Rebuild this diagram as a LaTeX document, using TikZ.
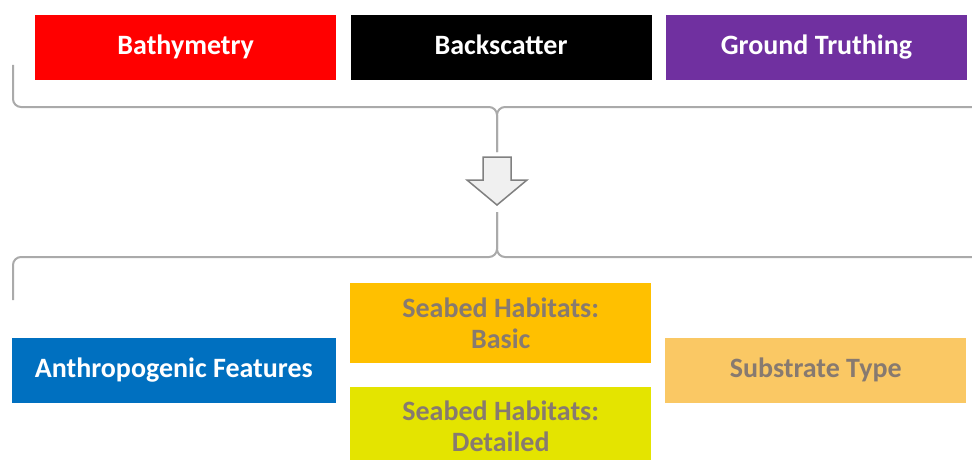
\documentclass[tikz,border=0pt]{standalone}
\usepackage{fontspec}
\setmainfont{Carlito}
\usetikzlibrary{
  arrows.meta,
  positioning
}
\definecolor{bathyred}{RGB}{255,0,0}
\definecolor{truthpurple}{RGB}{112,48,160}
\definecolor{anthroblue}{RGB}{0,112,192}
\definecolor{basicorange}{RGB}{255,192,0}
\definecolor{detailyellow}{RGB}{228,228,0}
\definecolor{substrateorange}{RGB}{250,200,100}
\definecolor{labelgray}{RGB}{135,122,112}
\definecolor{bracegray}{RGB}{170,170,170}
\tikzset{
  layer/.style={minimum width=301pt, minimum height=65pt, inner sep=0pt,
    align=center, font=\fontsize{28}{31}\selectfont\bfseries},
  oneline/.style={text height=20pt, text depth=6pt},
  brace/.style={draw=bracegray, line width=2pt, rounded corners=8pt},
}

\begin{document}
\begin{tikzpicture}[x=1pt, y=-1pt]
      \useasboundingbox (0,0) rectangle (972,460);
      % inputs
      \node (bathy) [layer, oneline, anchor=north west, fill=bathyred, text=white] at (35,15) {Bathymetry};
      \node (back) [layer, oneline, right = 14pt of bathy, fill=black, text=white] {Backscatter};
      \node (truth) [layer, oneline, right = 14pt of back, fill=truthpurple, text=white] {Ground Truthing};

      % outputs
      \node (basic) [layer, anchor=north west, minimum height=80pt, fill=basicorange, text=labelgray] at (350,283) {Seabed Habitats:\\Basic};
      \node (detail) [layer, below = 23pt of basic, minimum height=80pt, fill=detailyellow, text=labelgray] {Seabed Habitats:\\Detailed};
      \node (anthro) [layer, oneline, anchor=north east, minimum width=324pt, fill=anthroblue, text=white] at (336,338) {Anthropogenic Features};
      \node (substrate) [layer, oneline, anchor=north west, fill=substrateorange, text=labelgray] at (665,338) {Substrate Type};

      % braces
      \draw[brace] (13,65) -- (13,107) -- (497,107) -- (497,152);
      \draw[brace] (972,107) -- (497,107) -- (497,152);
      \draw[brace] (497,212) -- (497,257) -- (13,257) -- (13,300);
      \draw[brace] (497,212) -- (497,257) -- (972,257);

      % arrow
      \draw[draw=gray, fill=gray!12, line width=1.5pt, line join=miter]
        (483,157) -- (511,157) -- (511,180) -- (527,180) -- (497,205)
        -- (467,180) -- (483,180) -- cycle;
    \end{tikzpicture}
\end{document}
